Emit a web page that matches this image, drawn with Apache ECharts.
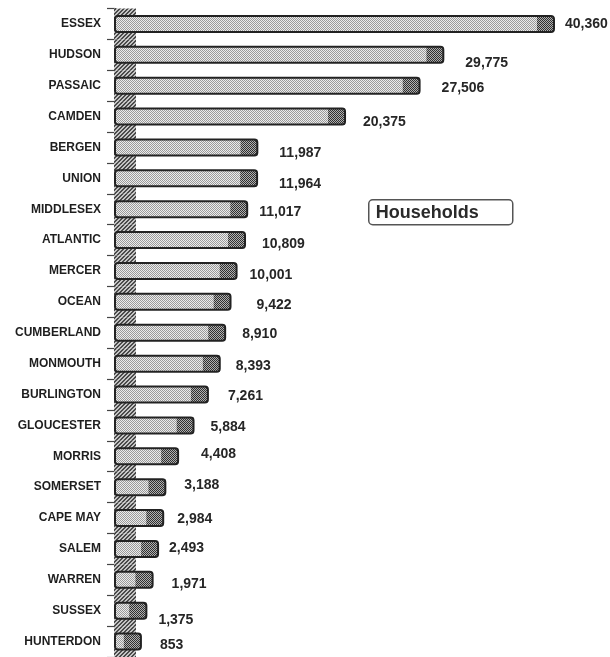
<!DOCTYPE html>
<html>
<head>
<meta charset="utf-8">
<script src="https://cdn.jsdelivr.net/npm/echarts@6/dist/echarts.min.js"></script>
<style>html,body{margin:0;padding:0;background:#fff;}#chart{width:610px;height:657px;}</style>
</head>
<body>
<div id="chart"></div>
<script>
const categories = ['ESSEX','HUDSON','PASSAIC','CAMDEN','BERGEN','UNION','MIDDLESEX','ATLANTIC','MERCER','OCEAN','CUMBERLAND','MONMOUTH','BURLINGTON','GLOUCESTER','MORRIS','SOMERSET','CAPE MAY','SALEM','WARREN','SUSSEX','HUNTERDON'];
const households = [40360, 29775, 27506, 20375, 11987, 11964, 11017, 10809, 10001, 9422, 8910, 8393, 7261, 5884, 4408, 3188, 2984, 2493, 1971, 1375, 853];
const seriesName = 'Households';
// label styling nudges (gap after bar end, vertical shift), as in the scanned original
const labelGap = [11,22,22,18,22,22,12,17,13,26,17,16,20,17,23,19,14,11,19,12,19];
const labelShift = [0,8,2,6,6,6,3,4,4,3,1,3,2,2,-2,-2,1,-1,4,9,4];

function makePattern(size, draw) {
  const c = document.createElement('canvas');
  c.width = size; c.height = size;
  const g = c.getContext('2d');
  draw(g);
  return {image: c, repeat: 'repeat'};
}
const lightPat = makePattern(2, g => {
  g.fillStyle = '#ececec'; g.fillRect(0,0,2,2);
  g.fillStyle = '#9a9a9a'; g.fillRect(0,0,1,1); g.fillRect(1,1,1,1);
});
const darkPat = makePattern(2, g => {
  g.fillStyle = '#b0b0b0'; g.fillRect(0,0,2,2);
  g.fillStyle = '#303030'; g.fillRect(0,0,1,1); g.fillRect(1,1,1,1);
});
const wallPat = makePattern(4, g => {
  g.fillStyle = '#c4c4c4'; g.fillRect(0,0,4,4);
  g.fillStyle = '#4a4a4a';
  for (let i = 0; i < 4; i++) { g.fillRect((3 - i + 4) % 4, i, 1, 1); g.fillRect((4 - i) % 4, i, 1, 1); }
});

const chart = echarts.init(document.getElementById('chart'), null, {renderer: 'canvas'});
const CAP = 17, BAR_H = 16, WALL_W = 22;

function renderItem(params, api) {
  const v = api.value(0), ci = api.value(1);
  const i = params.dataIndex;
  const p0 = api.coord([0, ci]);
  const p1 = api.coord([v, ci]);
  const band = api.size([0, 1])[1];
  const y = p0[1] - BAR_H / 2;
  const len = p1[0] - p0[0];
  return {
    type: 'group',
    children: [
      {type: 'rect', shape: {x: p0[0] - 1, y: p0[1] - band / 2, width: WALL_W, height: band}, style: {fill: wallPat}},
      {type: 'rect', shape: {x: p0[0], y: y, width: len, height: BAR_H}, style: {fill: lightPat}},
      {type: 'rect', shape: {x: p1[0], y: y, width: CAP, height: BAR_H}, style: {fill: darkPat}},
      {type: 'rect', shape: {x: p0[0], y: y, width: len + CAP, height: BAR_H, r: 3}, style: {fill: null, stroke: '#222', lineWidth: 2}},
      {type: 'text', style: {
        text: v.toLocaleString('en-US'),
        x: p1[0] + CAP + labelGap[i], y: p0[1] + labelShift[i],
        verticalAlign: 'middle', align: 'left',
        fontSize: 14, fontWeight: 'bold', fontFamily: 'Liberation Sans, Arial, sans-serif',
        fill: '#262626'
      }}
    ]
  };
}

chart.setOption({
  backgroundColor: '#fff',
  animation: false,
  grid: {left: 115, top: 8.5, width: 470.5, height: 650},
  xAxis: {type: 'value', min: 0, max: 45000, show: false},
  yAxis: {
    type: 'category', data: categories, inverse: true,
    axisLine: {show: true, lineStyle: {color: '#333', width: 1}},
    axisTick: {show: true, length: 8, lineStyle: {color: '#444', width: 1.2}},
    axisLabel: {margin: 14, fontSize: 12, fontWeight: 'bold', fontFamily: 'Liberation Sans, Arial, sans-serif', color: '#1e1e1e'},
    splitLine: {show: false}
  },
  series: [{
    name: seriesName,
    type: 'custom',
    renderItem: renderItem,
    encode: {x: 0, y: 1},
    data: households.map((v, i) => [v, i])
  }],
  graphic: [{
    type: 'group', left: 368, top: 199,
    children: [
      {type: 'rect', shape: {x: 0, y: 0, width: 144, height: 25, r: 4}, style: {fill: '#fff', stroke: '#555', lineWidth: 1.5}},
      {type: 'text', style: {text: seriesName, x: 7, y: 13, verticalAlign: 'middle', fontSize: 18, fontWeight: 'bold', fontFamily: 'Liberation Sans, Arial, sans-serif', fill: '#2a2a2a'}}
    ]
  }]
});
</script>
</body>
</html>
